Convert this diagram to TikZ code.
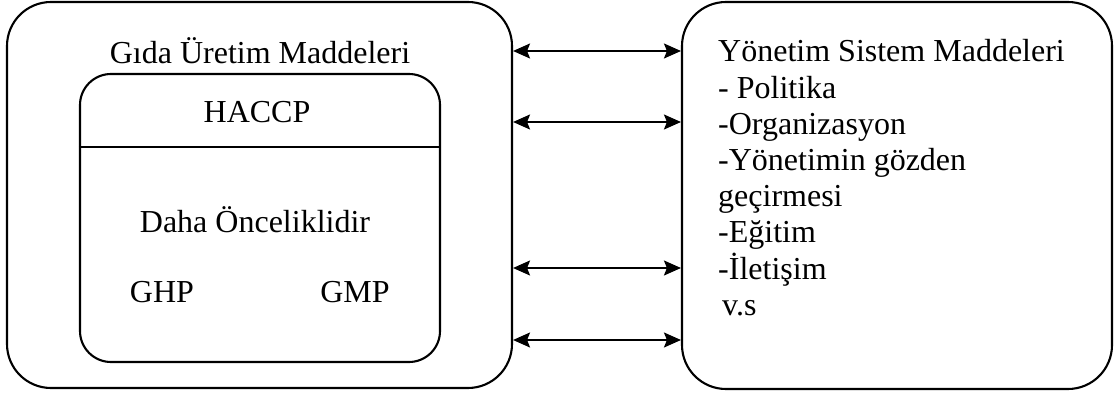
\documentclass[tikz,border=0pt]{standalone}
\usepackage{fontspec}
\setmainfont{Liberation Serif}
\newfontfamily\romanfam{Liberation Serif}
\usetikzlibrary{arrows.meta}
\begin{document}
\begin{tikzpicture}[x=1pt,y=-1pt,
  box/.style={draw, line width=2.1pt, inner sep=0pt},
  lbl/.style={inner sep=0pt, anchor=base, font=\romanfam\fontsize{32}{36}\selectfont},
  item/.style={lbl, anchor=base west},
  link/.style={line width=1.8pt, {Stealth[length=17pt,width=15pt,inset=3pt]}-{Stealth[length=17pt,width=15pt,inset=3pt]}}]
\useasboundingbox (0,0) rectangle (1115,395);

% left block: food production items
\node[box, rounded corners=44pt, minimum width=505pt, minimum height=386pt] (food) at (259.5,195) {};
\node[box, rounded corners=31pt, minimum width=360pt, minimum height=288pt] (haccpbox) at (260,218) {};
\coordinate (sep) at (0,147);
\draw[line width=1.9pt] (haccpbox.west |- sep) -- (haccpbox.east |- sep);

\node[lbl] (foodtitle) at (260,64) {Gıda Üretim Maddeleri};
\node[lbl] (haccp) at (257,123) {HACCP};
\node[lbl] (prior) at (255,233) {Daha Önceliklidir};
\node[lbl] (ghp) at (162,302) {GHP};
\node[lbl] (gmp) at (355,302) {GMP};

% right block: management system items
\node[box, rounded corners=44pt, minimum width=430pt, minimum height=387pt] (mgmt) at (897,195.5) {};
\foreach \t [count=\i from 0] in {Yönetim Sistem Maddeleri, - Politika, -Organizasyon,
    -Yönetimin gözden, geçirmesi, -Eğitim, -İletişim, \hspace{4pt}v.s}
  \node[item] (m\i) at (718,62+36.2*\i) {\t};

% two-way links between the blocks
\foreach \y [count=\k] in {51,122,268,340} {
  \coordinate (y\k) at (0,\y);
  \draw[link] (food.east |- y\k) -- (mgmt.west |- y\k);
}
\end{tikzpicture}
\end{document}
